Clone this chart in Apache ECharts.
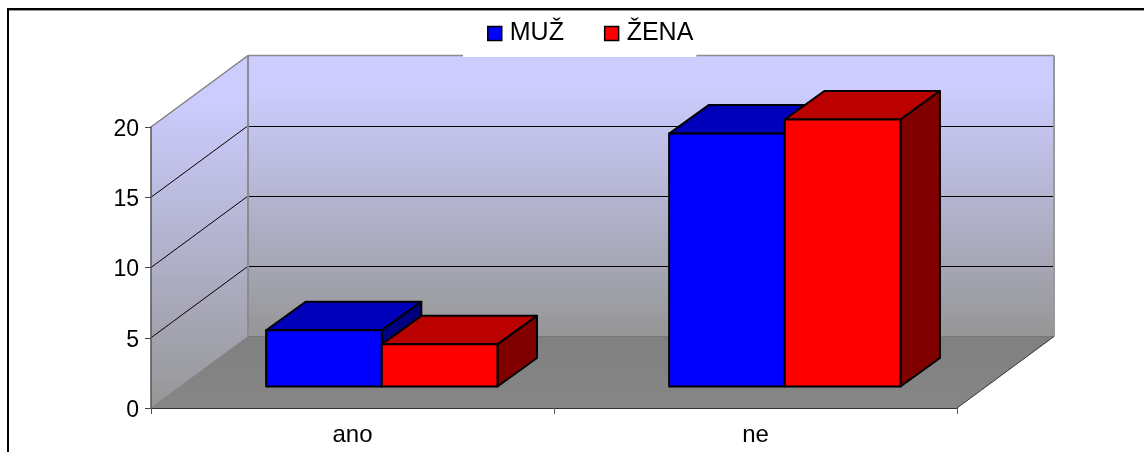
<!DOCTYPE html>
<html>
<head>
<meta charset="utf-8">
<style>html,body{margin:0;padding:0;background:#fff}#c{width:1144px;height:452px}</style>
<script src="https://cdn.jsdelivr.net/npm/echarts@6/dist/echarts.min.js"></script>
</head>
<body>
<div id="c"></div>
<script>
const categories = ['ano', 'ne'];
const seriesNames = ['MUŽ', 'ŽENA'];
const muzValues = [4, 18];
const zenaValues = [3, 19];
const yTicks = [5, 10, 15, 20];

// 3D look (pixel offsets of the oblique projection)
const WALL_DX = 97, WALL_DY = -71.5;
const BAR_SHIFT_X = 29.3, BAR_SHIFT_Y = -21.5;
const BAR_DX = 39.5, BAR_DY = -28.5;
const BAR_W = 0.287;

const chart = echarts.init(document.getElementById('c'), null, {renderer: 'canvas'});

function poly(points, fill, stroke, lw) {
  return {type: 'polygon', shape: {points}, style: {fill, stroke: stroke || null, lineWidth: lw || 0}};
}
function line(a, b, stroke, lw) {
  return {type: 'line', shape: {x1: a[0], y1: a[1], x2: b[0], y2: b[1]}, style: {stroke, lineWidth: lw}};
}
function wallGrad(y0, y1) {
  return {type: 'linear', global: true, x: 0, y: y0, x2: 0, y2: y1,
    colorStops: [{offset: 0, color: '#ccccff'}, {offset: 0.12, color: '#ccccff'}, {offset: 1, color: '#969696'}]};
}
function renderWalls(params, api) {
  const band = api.size([1, 0])[0];
  const c0 = api.coord([0, 0])[0];
  const xl = c0 - band / 2, xr = c0 + band * (categories.length - 0.5);
  const at = (x, v) => [x, api.coord([0, v])[1]];
  const fl = at(xl, 0), fr = at(xr, 0), tl = at(xl, 20), tr = at(xr, 20);
  const off = p => [p[0] + WALL_DX, p[1] + WALL_DY];
  const children = [
    poly([fl, off(fl), off(fr), fr], {type: 'linear', global: true, x: 0, y: off(fl)[1], x2: 0, y2: fl[1],
      colorStops: [{offset: 0, color: '#808080'}, {offset: 1, color: '#868686'}]}),
    poly([off(tl), off(tr), off(fr), off(fl)], wallGrad(off(tl)[1], off(fl)[1])),
    poly([tl, off(tl), off(fl), fl], wallGrad(off(tl)[1], fl[1]))
  ];
  yTicks.forEach(v => {
    const a = at(xl, v), b = at(xr, v);
    if (v < 20) {
      const y = Math.round(off(a)[1]) + 0.5;
      children.push(line([off(a)[0], y], [off(b)[0], y], '#000', 1));
      children.push(line(a, off(a), '#000', 1));
    }
  });
  children.push(line(tl, off(tl), '#808080', 1.5));
  children.push(line(off(tl), off(tr), '#8c8c8c', 1.5));
  children.push(line(off(tr), off(fr), '#999', 2));
  children.push(line(off(tl), off(fl), '#8c8c8c', 2));
  children.push(line(off(fl), off(fr), '#777', 1));
  children.push(line(fl, off(fl), '#808080', 1));
  children.push(line(fr, off(fr), '#333', 1));
  return {type: 'group', children};
}
function barRenderer(seriesIndex, front, top, side) {
  return function (params, api) {
    const band = api.size([1, 0])[0];
    const w = band * BAR_W;
    const base = api.coord([api.value(0), 0]);
    const head = api.coord([api.value(0), api.value(1)]);
    const x0 = base[0] + BAR_SHIFT_X + (seriesIndex - 1) * w;
    const x1 = x0 + w;
    const yb = base[1] + BAR_SHIFT_Y;
    const yt = head[1] + BAR_SHIFT_Y;
    const ln = {stroke: '#000', lineWidth: 2, lineJoin: 'round'};
    return {type: 'group', children: [
      {type: 'polygon', shape: {points: [[x0, yt], [x0 + BAR_DX, yt + BAR_DY], [x1 + BAR_DX, yt + BAR_DY], [x1, yt]]}, style: Object.assign({fill: top}, ln)},
      {type: 'polygon', shape: {points: [[x1, yt], [x1 + BAR_DX, yt + BAR_DY], [x1 + BAR_DX, yb + BAR_DY], [x1, yb]]}, style: Object.assign({fill: side}, ln)},
      {type: 'polygon', shape: {points: [[x0, yt], [x1, yt], [x1, yb], [x0, yb]]}, style: Object.assign({fill: front}, ln)}
    ]};
  };
}

chart.setOption({
  animation: false,
  backgroundColor: '#fff',
  textStyle: {fontFamily: '"Liberation Sans", Arial, sans-serif'},
  grid: {left: 151, right: 187, top: 127, bottom: 44, containLabel: false},
  legend: {
    data: seriesNames, left: 463, top: 10, z: 10, orient: 'horizontal', selectedMode: false,
    padding: [11, 3, 11, 24], backgroundColor: '#fff',
    itemWidth: 14, itemHeight: 14, itemGap: 40, icon: 'rect',
    itemStyle: {borderColor: '#000', borderWidth: 1.5},
    textStyle: {fontSize: 25, color: '#000', lineHeight: 24, padding: [0, 0, 0, 3], fontFamily: '"Liberation Sans", Arial, sans-serif'}
  },
  xAxis: {
    type: 'category', data: categories, boundaryGap: true, z: 5,
    axisLine: {lineStyle: {color: '#333', width: 1}},
    axisTick: {show: true, length: 6, alignWithLabel: false, lineStyle: {color: '#555', width: 1}},
    axisLabel: {fontSize: 24, color: '#000', margin: 15}
  },
  yAxis: {
    type: 'value', min: 0, max: 20, interval: 5, z: 5,
    axisLine: {show: true, lineStyle: {color: '#555', width: 1.5}},
    axisTick: {show: true, length: 6, lineStyle: {color: '#444', width: 1}},
    axisLabel: {color: '#000', margin: 12, formatter: '{n|{value}}',
      rich: {n: {fontSize: 23, color: '#000', padding: [5, 0, 0, 0]}}},
    splitLine: {show: false}
  },
  graphic: [
    {type: 'rect', z: 20, silent: true, shape: {x: 7, y: 8, width: 2, height: 444}, style: {fill: '#000'}},
    {type: 'rect', z: 20, silent: true, shape: {x: 7, y: 8, width: 1137, height: 2}, style: {fill: '#000'}},
    {type: 'rect', z: 20, silent: true, shape: {x: 9, y: 10, width: 1135, height: 1}, style: {fill: '#999'}}
  ],
  series: [
    {name: 'walls', type: 'custom', z: 1, silent: true, clip: false, renderItem: renderWalls, data: [[0, 0]], encode: {x: 0, y: 1}, tooltip: {show: false}},
    {name: seriesNames[0], type: 'custom', z: 3, clip: false, itemStyle: {color: '#0000ff'},
     renderItem: barRenderer(0, '#0000ff', '#0000bb', '#000080'),
     data: muzValues.map((v, i) => [i, v]), encode: {x: 0, y: 1}},
    {name: seriesNames[1], type: 'custom', z: 4, clip: false, itemStyle: {color: '#ff0000'},
     renderItem: barRenderer(1, '#ff0000', '#bb0000', '#800000'),
     data: zenaValues.map((v, i) => [i, v]), encode: {x: 0, y: 1}}
  ]
});
</script>
</body>
</html>
